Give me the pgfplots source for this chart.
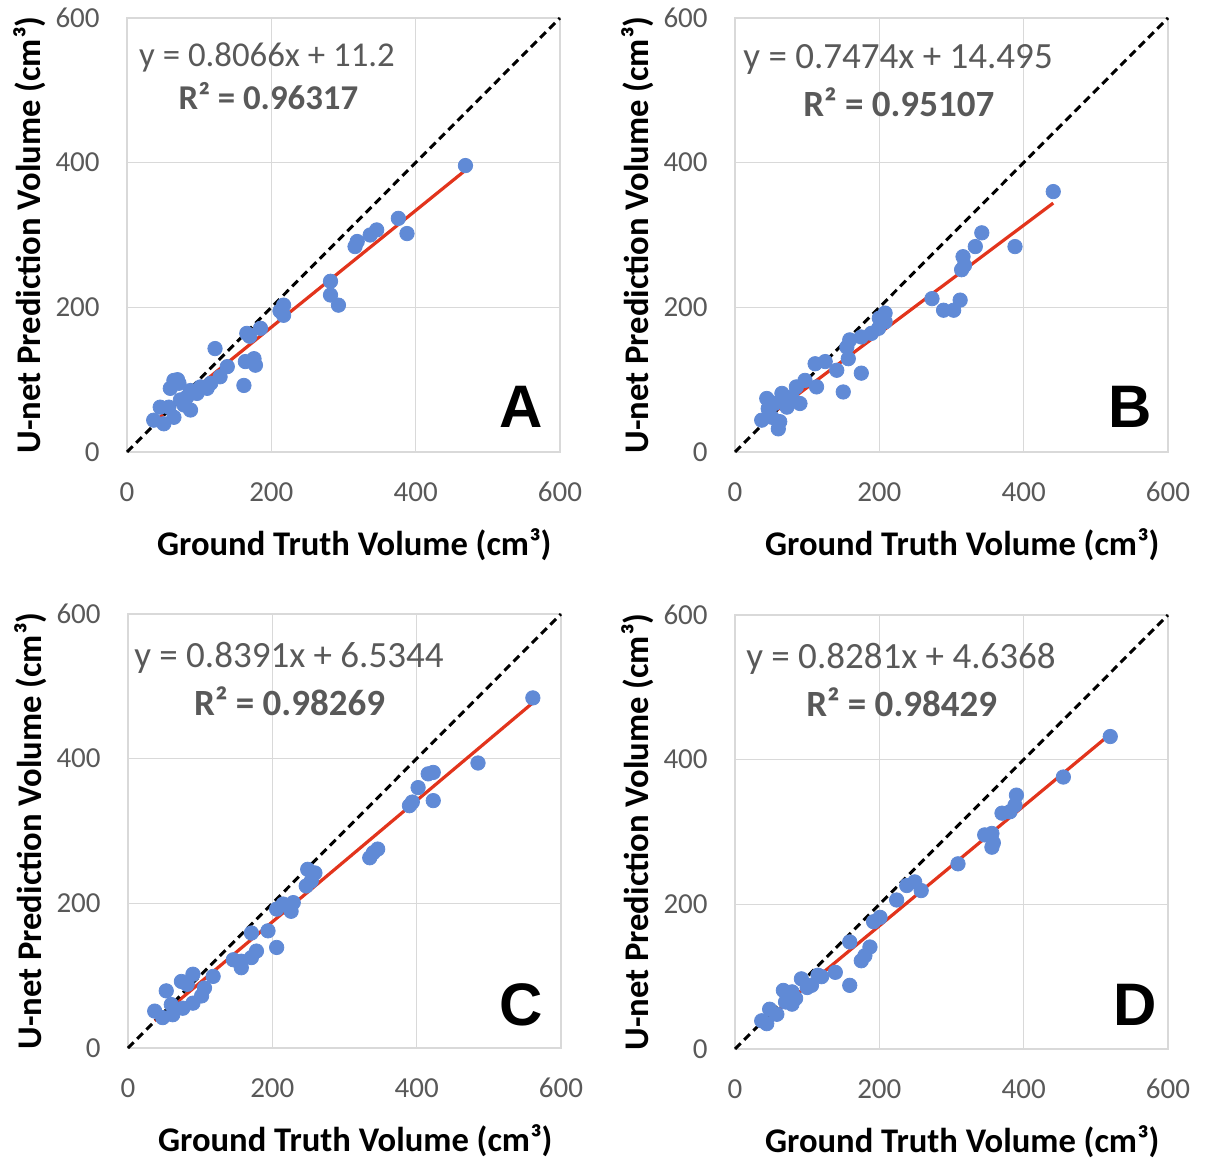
\documentclass[border=0pt]{standalone}
\usepackage{fontspec}
\setmainfont{Carlito}
\newfontfamily\letterfont{Liberation Sans}
\usepackage{pgfplots}
\usepackage{pgfplotstable}
\pgfplotsset{compat=1.18}

\definecolor{gridgray}{RGB}{217,217,217}
\definecolor{tickgray}{RGB}{89,89,89}
\definecolor{dotblue}{RGB}{96,138,214}
\definecolor{fitred}{RGB}{226,52,28}

% ground truth vs prediction, one table per panel
\pgfplotstableread{
x y
469 396
376 323
388 302
346 307
337 300
319 291
316 284
282 236
282 217
293 203
217 203
217 189
212 195
185 171
166 164
170 160
176 129
178 120
164 125
162 92
122 143
139 118
116 95
102 90
88 85
72 95
60 88
65 99
70 100
83 76
88 58
74 72
46 62
37 44
51 39
65 48
58 62
79 65
97 81
111 88
129 104
}\dataA

\pgfplotstableread{
x y
441 360
388 284
342 303
333 284
316 270
314 252
318 258
312 210
303 196
289 196
273 212
208 192
208 180
200 185
199 171
189 164
175 159
159 155
155 145
157 129
141 113
175 109
150 83
125 125
111 122
113 90
97 99
85 90
79 76
65 81
44 74
55 67
37 44
51 48
62 42
60 32
72 62
90 67
46 60
70 70
}\dataB

\pgfplotstableread{
x y
561 484
485 394
423 381
416 379
402 360
423 342
390 335
394 340
346 275
335 263
340 270
259 242
249 247
254 231
247 224
229 201
226 189
215 199
206 192
194 162
206 139
171 159
178 134
171 125
157 111
157 120
146 122
118 99
106 83
90 102
74 92
53 79
90 62
76 55
62 46
48 42
37 51
102 72
82 88
60 60
}\dataC

\pgfplotstableread{
x y
520 432
455 376
390 351
388 337
381 328
370 326
356 298
346 296
356 279
358 285
309 256
258 219
249 231
238 226
224 206
201 182
192 176
187 141
180 129
175 122
159 148
159 88
139 106
115 102
106 88
92 97
79 79
67 81
79 62
84 70
58 48
48 55
37 39
44 35
100 85
70 65
120 100
}\dataD

\pgfplotsset{
  panel/.style={
    scale only axis, width=216.5pt, height=217pt,
    anchor=south west,
    xmin=0, xmax=600, ymin=0, ymax=600,
    xtick={0,200,400,600}, ytick={0,200,400,600},
    grid=major,
    major grid style={gridgray, line width=0.7pt},
    axis line style={gridgray, line width=0.7pt},
    tick style={draw=none},
    /pgf/number format/assume math mode=true,
    ticklabel style={font=\fontsize{14.5}{14.5}\selectfont, text=tickgray, inner sep=0pt},
    yticklabel style={anchor=east, xshift=-13.5pt},
    xticklabel style={anchor=center, yshift=-20pt},
    xlabel={Ground Truth Volume (cm³)},
    ylabel={U-net Prediction Volume (cm³)},
    xlabel style={at={(axis description cs:0.525,-0.2143)}, anchor=center,
      font=\bfseries\fontsize{17.3}{17.3}\selectfont},
    ylabel style={at={(axis description cs:-0.224,0.5)}, anchor=center,
      font=\bfseries\fontsize{17.3}{17.3}\selectfont},
    clip=false,
  },
  mydots/.style={only marks, mark=*, mark size=3.6pt,
    mark options={fill=dotblue, draw=dotblue}},
  myfit/.style={fitred, line width=1.6pt},
  myident/.style={black, line width=1.5pt, dash pattern=on 4pt off 2.5pt},
}
\tikzset{
  eq/.style={font=\fontsize{#1}{#1}\selectfont, text=tickgray},
  eq/.default=18.5,
  rsq/.style={font=\bfseries\fontsize{#1}{#1}\selectfont, text=tickgray},
  rsq/.default=18.5,
  letter/.style={font=\letterfont\bfseries\fontsize{30}{30}\selectfont},
}

\begin{document}
\begin{tikzpicture}
\useasboundingbox (0,0) rectangle (603pt,-579.5pt);

% A
\begin{axis}[panel, at={(63.5pt,-226pt)}]
  \addplot[mydots] table[x=x,y=y] {\dataA};
  \addplot[myfit] coordinates {(35,39.43) (469,389.50)};
  \addplot[myident] coordinates {(0,0) (600,600)};
  \node[eq=17.4] at (axis cs:194,546) {y = 0.8066x + 11.2};
  \node[rsq=17.4] at (axis cs:196,492) {R² = 0.96317};
  \node[letter] at (axis cs:546,62) {A};
\end{axis}

% B
\begin{axis}[panel, at={(367.5pt,-226pt)}]
  \addplot[mydots] table[x=x,y=y] {\dataB};
  \addplot[myfit] coordinates {(37,42.15) (441,344.10)};
  \addplot[myident] coordinates {(0,0) (600,600)};
  \node[eq] at (axis cs:226,543) {y = 0.7474x + 14.495};
  \node[rsq] at (axis cs:227,484) {R² = 0.95107};
  \node[letter] at (axis cs:547,62) {B};
\end{axis}

% C
\begin{axis}[panel, at={(64pt,-524pt)}]
  \addplot[mydots] table[x=x,y=y] {\dataC};
  \addplot[myfit] coordinates {(37,37.58) (561,477.27)};
  \addplot[myident] coordinates {(0,0) (600,600)};
  \node[eq] at (axis cs:223,539) {y = 0.8391x + 6.5344};
  \node[rsq] at (axis cs:224,479) {R² = 0.98269};
  \node[letter] at (axis cs:545,60) {C};
\end{axis}

% D
\begin{axis}[panel, at={(367.5pt,-524.5pt)}]
  \addplot[mydots] table[x=x,y=y] {\dataD};
  \addplot[myfit] coordinates {(37,35.28) (520,435.25)};
  \addplot[myident] coordinates {(0,0) (600,600)};
  \node[eq] at (axis cs:230,540) {y = 0.8281x + 4.6368};
  \node[rsq] at (axis cs:231,479) {R² = 0.98429};
  \node[letter] at (axis cs:554,61) {D};
\end{axis}
\end{tikzpicture}
\end{document}
